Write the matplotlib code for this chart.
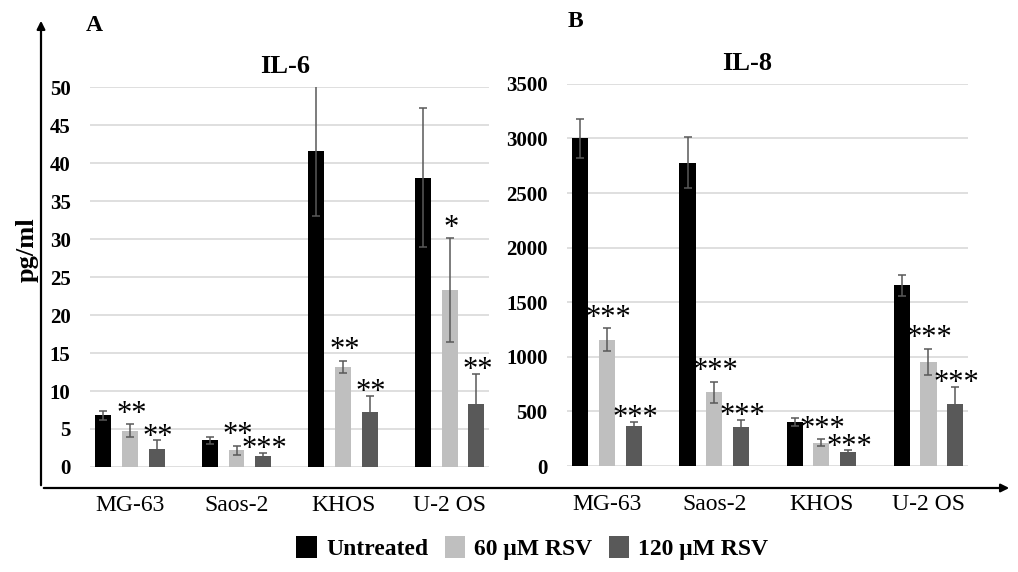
import numpy as np
import matplotlib.pyplot as plt
from matplotlib.patches import FancyArrowPatch, Patch

plt.rcParams['font.family'] = ['Liberation Serif', 'DejaVu Serif']

cell_lines = ["MG-63", "Saos-2", "KHOS", "U-2 OS"]
treatments = ["Untreated", "60 \u03bcM RSV", "120 \u03bcM RSV"]
colors = ["#000000", "#bfbfbf", "#595959"]

# IL-6 (pg/ml)
il6_untreated = [6.8, 3.5, 41.6, 38.1]
il6_60 = [4.8, 2.2, 13.2, 23.3]
il6_120 = [2.4, 1.45, 7.3, 8.3]
il6_untreated_err = [0.6, 0.5, 8.5, 9.1]
il6_60_err = [0.8, 0.6, 0.8, 6.8]
il6_120_err = [1.1, 0.4, 2.0, 4.0]
il6_60_stars = ["**", "**", "**", "*"]
il6_120_stars = ["**", "***", "**", "**"]

# IL-8 (pg/ml)
il8_untreated = [3000, 2780, 403, 1654]
il8_60 = [1156, 676, 214, 951]
il8_120 = [367, 358, 131, 569]
il8_untreated_err = [180, 230, 40, 95]
il8_60_err = [105, 97, 30, 118]
il8_120_err = [33, 64, 12, 159]
il8_60_stars = ["***", "***", "***", "***"]
il8_120_stars = ["***", "***", "***", "***"]


def draw_panel(ax, means, errs, stars, ymax, ystep, title, title_x):
    x = np.arange(len(cell_lines))
    offsets = [-0.25, 0.0, 0.25]
    for i in range(3):
        ax.bar(x + offsets[i], means[i], width=0.15, color=colors[i], zorder=3)
        ax.errorbar(x + offsets[i], means[i], yerr=errs[i], fmt='none',
                    ecolor='#595959', elinewidth=1.1, capsize=3, capthick=1.1, zorder=4)
    # significance stars on treated bars (light ones sit a bit higher)
    star_dy = {1: -3, 2: -8}
    for i in (1, 2):
        for j in range(len(cell_lines)):
            top = means[i][j] + errs[i][j]
            ax.annotate(stars[i - 1][j], (x[j] + offsets[i], top),
                        xytext=(1, star_dy[i]), textcoords='offset points',
                        ha='center', va='bottom', fontsize=22, zorder=5)
    ax.set_xlim(-0.375, 3.37)
    ax.set_ylim(0, ymax)
    ax.set_yticks(np.arange(0, ymax + 1, ystep))
    ax.yaxis.grid(True, color='#d9d9d9', lw=1.2, zorder=0)
    ax.set_axisbelow(True)
    for s in ax.spines.values():
        s.set_visible(False)
    ax.tick_params(axis='y', length=0, labelsize=15, pad=14)
    for lab in ax.get_yticklabels():
        lab.set_fontweight('bold')
    ax.set_xticks(x)
    ax.set_xticklabels(cell_lines, fontsize=17)
    ax.tick_params(axis='x', length=0, pad=20)
    ax.set_title(title, fontsize=19, fontweight='bold', pad=10, x=title_x)


fig = plt.figure(figsize=(10.18, 5.72), dpi=100)
ax1 = fig.add_axes([0.0884, 0.1836, 0.392, 0.664])
ax2 = fig.add_axes([0.557, 0.1853, 0.394, 0.668])

draw_panel(ax1, [il6_untreated, il6_60, il6_120],
           [il6_untreated_err, il6_60_err, il6_120_err],
           [il6_60_stars, il6_120_stars], 50, 5, "IL-6", 0.49)
draw_panel(ax2, [il8_untreated, il8_60, il8_120],
           [il8_untreated_err, il8_60_err, il8_120_err],
           [il8_60_stars, il8_120_stars], 3500, 500, "IL-8", 0.45)

# outer arrows
x0, y0 = 41 / 1018, 1 - 488 / 572
fig.add_artist(FancyArrowPatch((x0, y0), (x0, 1 - 18 / 572), transform=fig.transFigure,
                               arrowstyle='-|>', mutation_scale=12, lw=1.6, color='black'))
fig.add_artist(FancyArrowPatch((x0, y0), (1012 / 1018, y0), transform=fig.transFigure,
                               arrowstyle='-|>', mutation_scale=12, lw=1.6, color='black'))

fig.text(0.027, 0.563, "pg/ml", rotation=90, ha='center', va='center',
         fontsize=19, fontweight='bold')
fig.text(0.084, 0.955, "A", ha='left', va='center', fontsize=17, fontweight='bold')
fig.text(0.558, 0.962, "B", ha='left', va='center', fontsize=17, fontweight='bold')

handles = [Patch(facecolor=c, edgecolor='none') for c in colors]
fig.legend(handles, treatments, loc='center', bbox_to_anchor=(0.523, 0.042), ncol=3,
           frameon=False, prop={'weight': 'bold', 'size': 17},
           handlelength=0.85, handleheight=1.1, handletextpad=0.4, columnspacing=0.7)

fig.savefig("out.png", dpi=100)
